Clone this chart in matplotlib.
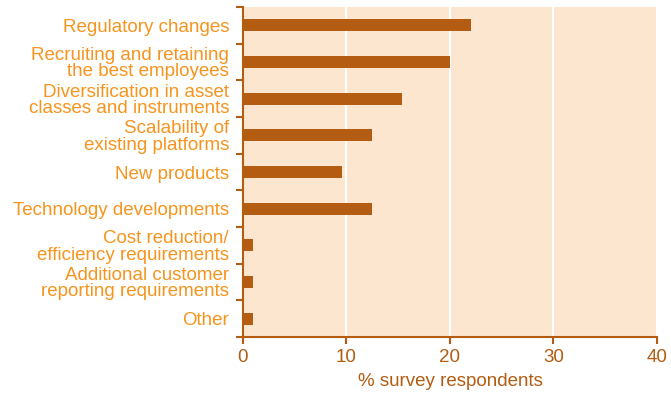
import numpy as np
import matplotlib.pyplot as plt
from matplotlib.ticker import FixedLocator

categories = [
    "Regulatory changes",
    "Recruiting and retaining\nthe best employees",
    "Diversification in asset\nclasses and instruments",
    "Scalability of\nexisting platforms",
    "New products",
    "Technology developments",
    "Cost reduction/\nefficiency requirements",
    "Additional customer\nreporting requirements",
    "Other",
]
values = [22, 20, 15.4, 12.5, 9.6, 12.5, 1, 1, 1]
x_ticks = [0, 10, 20, 30, 40]

bar_color = "#b35c12"
label_color = "#f7941d"
bg_color = "#fde6cf"

plt.rcParams["font.family"] = ["Liberation Sans", "DejaVu Sans"]

fig = plt.figure(figsize=(6.71, 3.94), dpi=100)
ax = fig.add_axes([0.3621, 0.1447, 0.9791 - 0.3621, 0.9822 - 0.1447])
ax.set_facecolor(bg_color)

y = np.arange(len(categories))
ax.barh(y, values, height=0.33, color=bar_color, zorder=3)

ax.set_xlim(0, 40)
ax.set_ylim(len(categories) - 0.5, -0.5)

# category labels without marks, separators as minor ticks
ax.set_yticks(y)
ax.set_yticklabels(categories, color=label_color, fontsize=13.5, linespacing=0.95)
ax.tick_params(axis="y", which="major", length=0, pad=10)
ax.yaxis.set_minor_locator(FixedLocator(np.arange(-0.5, len(categories), 1)))
ax.tick_params(axis="y", which="minor", length=5, width=1.5, color=bar_color)

ax.set_xticks(x_ticks)
ax.tick_params(axis="x", length=5, width=1.5, color=bar_color,
               labelcolor=bar_color, labelsize=13.5, pad=4)
ax.set_xlabel("% survey respondents", color=bar_color, fontsize=13.5, labelpad=5)

ax.xaxis.grid(True, color="white", linewidth=1.5, zorder=1)
ax.set_axisbelow(True)

for side in ["top", "right"]:
    ax.spines[side].set_visible(False)
for side in ["left", "bottom"]:
    ax.spines[side].set_color(bar_color)
    ax.spines[side].set_linewidth(1.5)

fig.savefig("out.png", dpi=100)
